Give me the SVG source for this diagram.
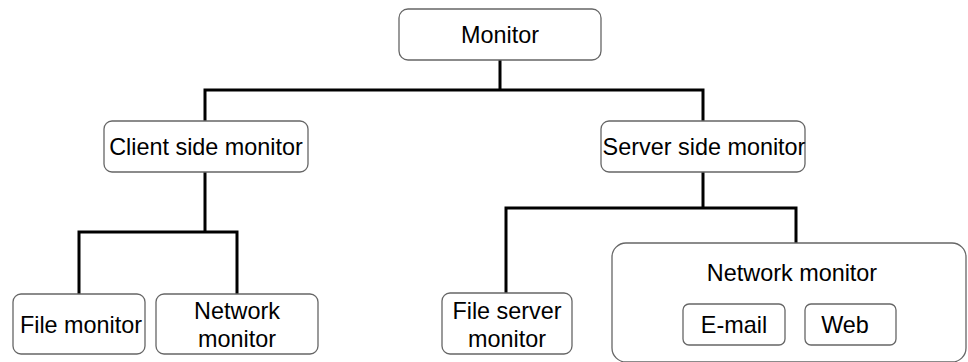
<svg xmlns="http://www.w3.org/2000/svg" width="968" height="362" viewBox="0 0 968 362">
  <style>
    .box { fill: #ffffff; stroke: #666666; stroke-width: 1.3; }
    .lbl { font-family: "Liberation Sans", Arial, sans-serif; font-size: 23.4px; fill: #000000; text-anchor: middle; }
    .wire { fill: none; stroke: #000000; stroke-width: 3; stroke-linejoin: miter; }
  </style>
  <rect width="968" height="362" fill="#ffffff"/>

  <!-- tree connectors -->
  <g id="connectors">
    <path class="wire" d="M500,60 V90 M205,121 V90 H703 V121"/>
    <path class="wire" d="M205,172 V232 M79,294 V232 H237 V294"/>
    <path class="wire" d="M703,172 V208 M506,293 V208 H796 V243"/>
  </g>

  <g id="monitor">
    <rect class="box" x="399" y="9" width="202" height="51" rx="9"/>
    <text class="lbl" x="500" y="43">Monitor</text>
  </g>

  <g id="client-side-monitor">
    <rect class="box" x="104" y="121" width="204" height="51" rx="8"/>
    <text class="lbl" x="206" y="155">Client side monitor</text>
  </g>

  <g id="server-side-monitor">
    <rect class="box" x="601" y="121" width="204" height="51" rx="8"/>
    <text class="lbl" x="704" y="155">Server side monitor</text>
  </g>

  <g id="file-monitor">
    <rect class="box" x="13" y="294" width="132" height="60" rx="8"/>
    <text class="lbl" x="81" y="333">File monitor</text>
  </g>

  <g id="client-network-monitor">
    <rect class="box" x="156" y="294" width="162" height="60" rx="8"/>
    <text class="lbl" x="237" y="319">Network</text>
    <text class="lbl" x="237" y="347">monitor</text>
  </g>

  <g id="file-server-monitor">
    <rect class="box" x="442" y="293" width="130" height="61" rx="8"/>
    <text class="lbl" x="507" y="319">File server</text>
    <text class="lbl" x="507" y="347">monitor</text>
  </g>

  <g id="server-network-monitor">
    <rect class="box" x="612" y="243" width="354" height="119" rx="14"/>
    <text class="lbl" x="792" y="281">Network monitor</text>
  </g>

  <g id="email">
    <rect class="box" x="683" y="304" width="102" height="41" rx="6"/>
    <text class="lbl" x="734" y="333">E-mail</text>
  </g>

  <g id="web">
    <rect class="box" x="805" y="304" width="91" height="41" rx="6"/>
    <text class="lbl" x="845" y="333">Web</text>
  </g>
</svg>
